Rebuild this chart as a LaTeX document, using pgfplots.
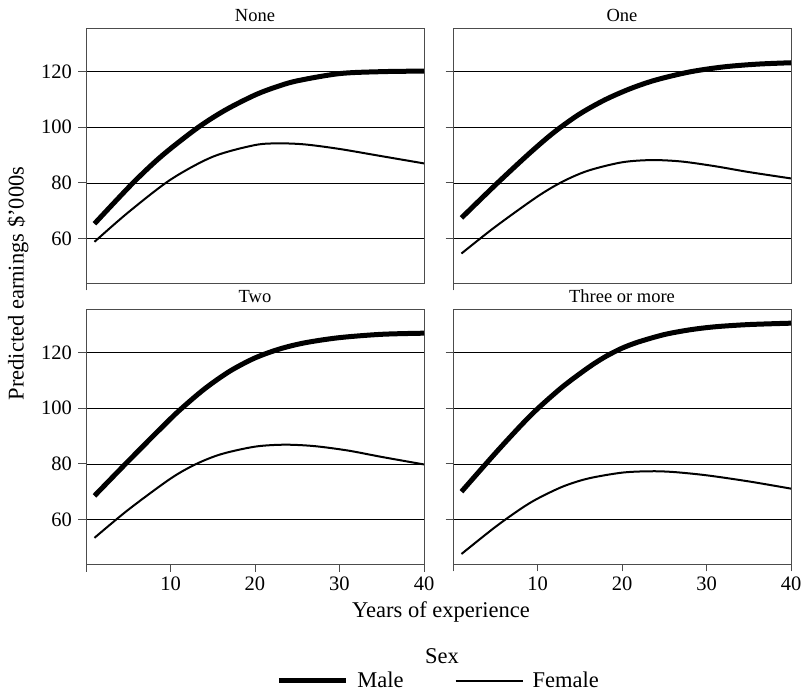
\documentclass[border=0pt]{standalone}
\usepackage{fontspec}
\setmainfont{Liberation Serif}
\usepackage{pgfplots}
\pgfplotsset{compat=1.18}
\begin{document}
\begin{tikzpicture}
\useasboundingbox (0,0) rectangle (804bp,694bp);
\pgfplotsset{
  panel/.style={
    scale only axis, width=338bp, height=255bp, anchor=south west,
    xmin=0, xmax=40, ymin=44, ymax=135.7,
    axis line style={draw=black!70, line width=0.9bp},
    tick align=outside, tick pos=left,
    tick style={draw=black!70, line width=0.9bp},
    major tick length=7.5bp,
    ytick={60,80,100,120},
    ymajorgrids, grid style={draw=black, line width=0.6bp},
    ticklabel style={font=\fontsize{20.5bp}{24bp}\selectfont},
    yticklabel style={xshift=-3bp},
    xticklabel style={yshift=-1.5bp},
    /pgf/number format/assume math mode=true,
    title style={at={(0.5,1)}, anchor=base, yshift=0.5bp, inner sep=0pt,
      font=\fontsize{18.5bp}{22bp}\selectfont},
    legend image code/.code={\draw[##1] (0bp,0bp) -- (67bp,0bp);},
  },
  top/.style={xtick={0}, xticklabels={,}},
  bottom/.style={xtick={0,10,20,30,40}, xticklabels={,10,20,30,40}},
  right/.style={yticklabels={}},
  male/.style={black, line width=5bp, smooth},
  female/.style={black, line width=2bp, smooth},
}
% None
\begin{axis}[panel, top, at={(86bp,411bp)}, title={None}]
\addplot[male] coordinates {(1,65.3) (5.5,79.8) (9,89.8) (13.2,99.8) (16.5,106.2) (20,111.6) (22.5,114.5) (25,116.7) (30,119.3) (35,120) (40,120.2)};
\addplot[female] coordinates {(1,58.8) (5,69.4) (10,81.15) (15,89.4) (20,93.6) (23,94.2) (26,93.8) (30,92.2) (35,89.6) (40,87.0)};
\end{axis}
% One
\begin{axis}[panel, top, right, at={(453bp,411bp)}, title={One}]
\addplot[male] coordinates {(1,67.4) (5,79.2) (9,90.5) (12,98.3) (15,104.8) (18,109.9) (21,113.9) (24,117.0) (28,119.9) (32,121.7) (36,122.7) (40,123.2)};
\addplot[female] coordinates {(1,54.6) (5,64.2) (10,75.1) (13,80.5) (16,84.4) (20,87.4) (23.5,88.2) (27,87.7) (31,86.0) (35,83.9) (40,81.6)};
\end{axis}
% Two
\begin{axis}[panel, bottom, at={(86bp,130bp)}, title={Two},
  legend columns=2,
  legend style={at={(1.043,-0.458)}, anchor=center, draw=none, fill=none,
    font=\fontsize{22.5bp}{26bp}\selectfont,
    /tikz/every odd column/.append style={column sep=7bp},
    /tikz/every even column/.append style={column sep=49bp}}]
\addplot[male] coordinates {(1,68.5) (5,81.0) (9,93.2) (11,99.1) (14,106.9) (17,113.3) (20,118.1) (23,121.4) (26,123.6) (30,125.4) (35,126.6) (40,127.0)};
\addlegendentry{Male}
\addplot[female] coordinates {(1,53.4) (5,63.5) (10,74.7) (13,79.9) (16,83.5) (20,86.2) (23.5,86.9) (27,86.4) (31,84.8) (35,82.5) (40,79.8)};
\addlegendentry{Female}
\end{axis}
% Three or more
\begin{axis}[panel, bottom, right, at={(453bp,130bp)}, title={Three or more}]
\addplot[male] coordinates {(1,70) (5,83.8) (8,93.7) (10,99.8) (13,107.8) (16,114.6) (18,118.5) (20,121.6) (22,123.9) (25,126.5) (28,128.2) (31,129.3) (35,130.1) (40,130.6)};
\addplot[female] coordinates {(1,47.6) (5,57.3) (8,63.8) (10,67.5) (13,71.85) (16,74.75) (20,76.85) (23.3,77.35) (26,77.1) (30,75.9) (35,73.7) (40,71.1)};
\end{axis}
\node[rotate=90, anchor=center, inner sep=0pt, font=\fontsize{22.5bp}{26bp}\selectfont] at (18bp,410.5bp) {Predicted earnings \$'000s};
\node[anchor=center, inner sep=0pt, font=\fontsize{22.5bp}{26bp}\selectfont] at (441bp,82bp) {Years of experience};
\node[anchor=base, inner sep=0pt, font=\fontsize{22.5bp}{26bp}\selectfont] at (442bp,31bp) {Sex};
\end{tikzpicture}
\end{document}
